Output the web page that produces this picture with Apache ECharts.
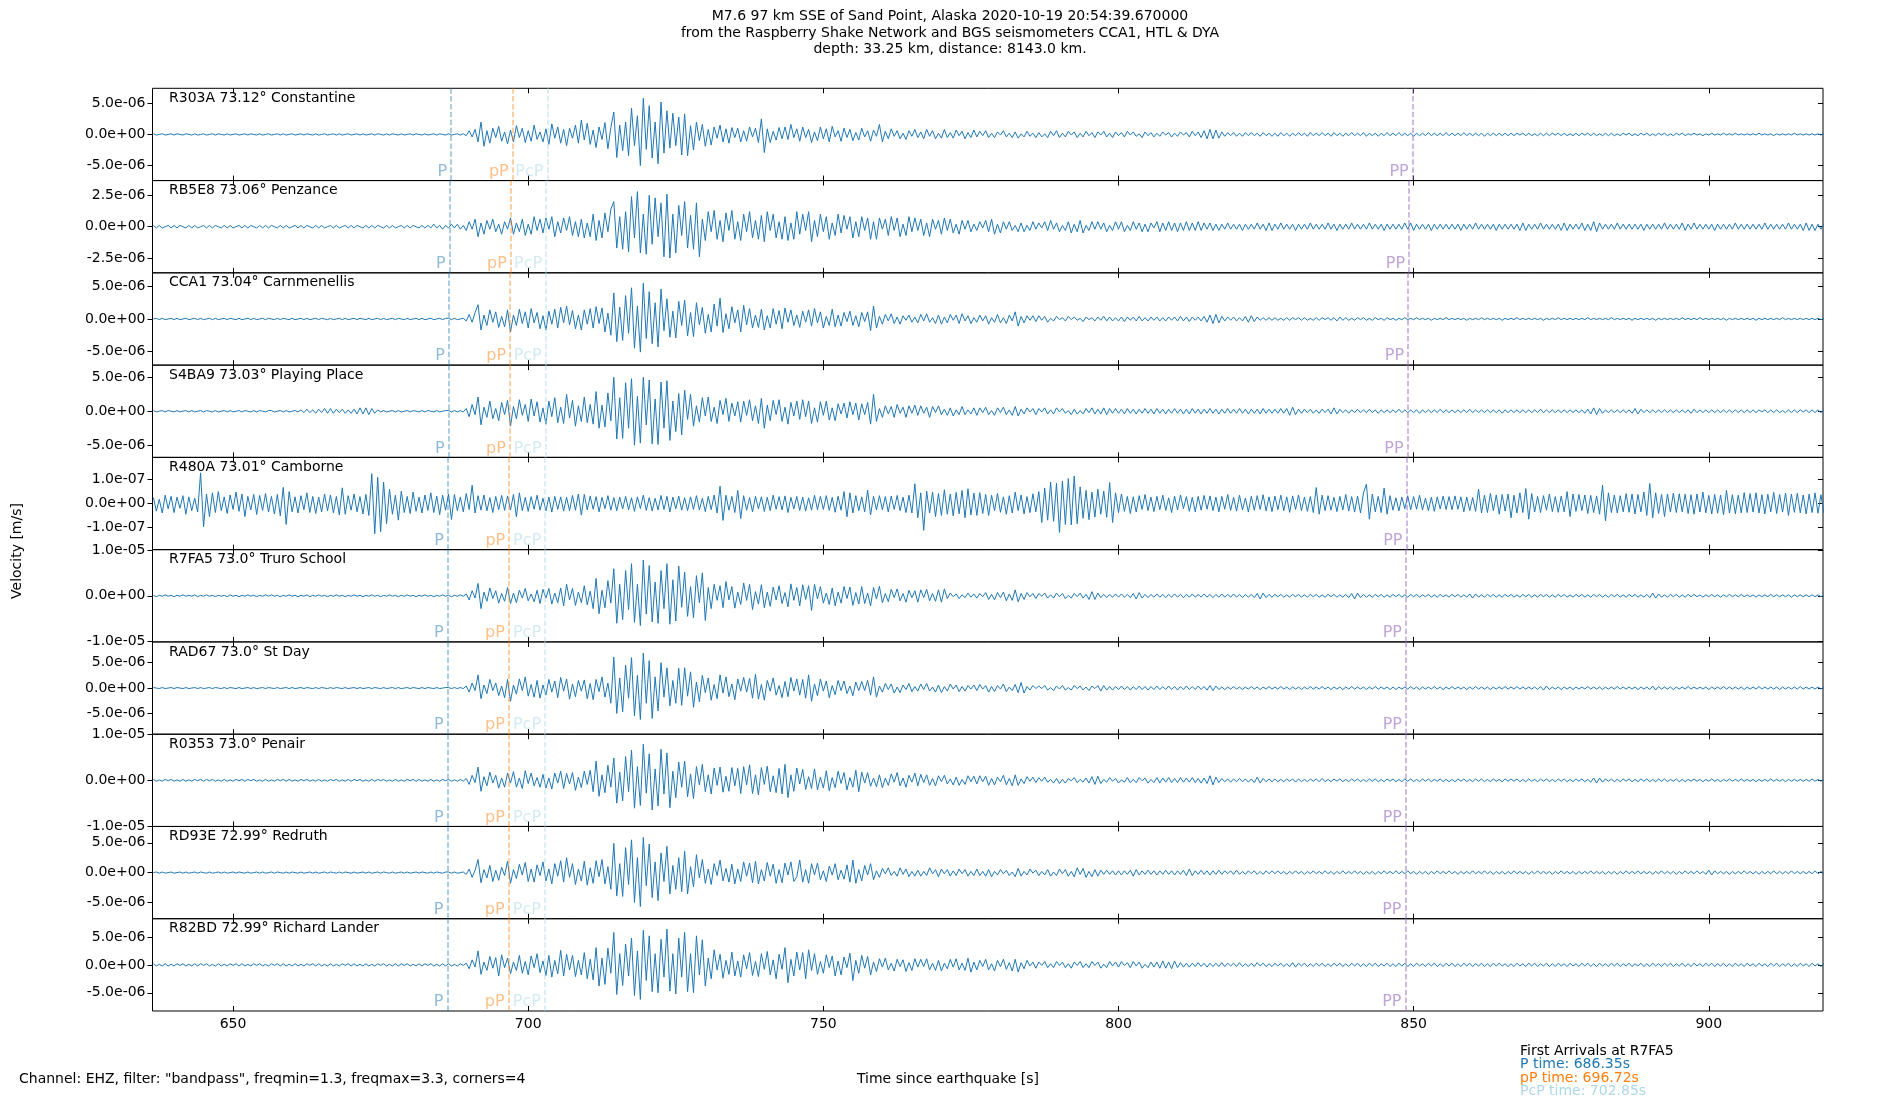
<!DOCTYPE html>
<html><head><meta charset="utf-8">
<script src="https://cdn.jsdelivr.net/npm/echarts@6/dist/echarts.min.js"></script>
<style>html,body{margin:0;padding:0;background:#fff}#c{width:1900px;height:1100px}</style>
</head><body><div id="c"></div>
<script>
const stationLabels = ['R303A 73.12° Constantine','RB5E8 73.06° Penzance','CCA1 73.04° Carnmenellis','S4BA9 73.03° Playing Place','R480A 73.01° Camborne','R7FA5 73.0° Truro School','RAD67 73.0° St Day','R0353 73.0° Penair','RD93E 72.99° Redruth','R82BD 72.99° Richard Lander'];
const phaseNames = ['P','pP','PcP','PP'];
const pTimes   = [686.95, 686.68, 686.57, 686.52, 686.41, 686.35, 686.35, 686.35, 686.30, 686.30];
const pPTimes  = [697.38, 697.05, 696.94, 696.89, 696.78, 696.72, 696.72, 696.72, 696.67, 696.67];
const pcpTimes = [703.25, 703.03, 702.97, 702.94, 702.88, 702.85, 702.85, 702.85, 702.82, 702.82];
const ppTimes  = [849.85, 849.24, 849.06, 848.97, 848.79, 848.70, 848.70, 848.70, 848.61, 848.61];
const yTickSteps = [5e-6, 2.5e-6, 5e-6, 5e-6, 1e-7, 1e-5, 5e-6, 1e-5, 5e-6, 5e-6];
const yLimits = [7.4e-6, 3.68e-6, 7.1e-6, 6.8e-6, 1.94e-7, 1.007e-5, 9.1e-6, 1.01e-5, 7.75e-6, 8.27e-6];
const valueUnits = [1e-7, 1e-7, 1e-7, 1e-7, 1e-9, 1e-7, 1e-7, 1e-7, 1e-7, 1e-7];
const xTicks = [650, 700, 750, 800, 850, 900];
const xMin = 636.35, xMax = 919.35;
const sampleStart = 636.5, sampleStep = 0.5;

const trace_R303A = [
1,-1,0,1,-1,0,1,-1,1,0,-1,1,0,-1,1,-1,0,1,-1,0,
1,-1,1,0,-1,1,-1,0,1,-1,0,1,-1,1,0,-1,1,-1,0,1,
-1,0,1,-1,1,-1,0,1,-1,0,1,-1,1,0,-1,1,-1,0,1,-1,
0,1,-1,1,-1,0,1,-1,0,1,-1,1,-1,0,1,-1,1,0,-1,1,
-1,1,0,-1,1,-1,0,1,-1,1,0,-1,1,-1,0,1,-1,1,0,-1,
1,-1,0,1,-1,1,-2,6,-4,8,-12,20,-19,6,-14,10,-5,13,-11,4,
-15,7,-12,14,-5,10,-13,6,-11,15,-8,4,-12,9,-16,17,-6,12,-14,8,
-18,10,-6,15,-14,23,-9,18,-16,7,-21,12,-8,19,-23,11,36,-37,15,-26,
20,-34,42,-18,30,-50,58,-24,46,-38,20,-47,52,-30,38,-22,34,-18,28,-33,
33,-34,14,-25,20,-10,16,-19,8,-17,12,-6,15,-12,9,-14,11,-5,10,-12,
6,-11,12,-4,10,-13,25,-29,9,-13,5,-9,11,-7,12,-8,16,-5,9,-11,
12,-5,8,-13,4,-10,12,-7,9,-12,13,-4,6,-11,10,-5,8,-10,3,-9,
10,-4,6,-11,7,-3,16,-12,5,-7,9,-3,6,-7,2,-8,6,-3,8,-5,
4,-7,8,-3,6,-7,2,-6,8,-5,3,-6,7,-2,5,-7,3,-5,7,-4,
5,-2,6,-5,2,-5,4,-1,6,-4,2,-5,4,-6,1,-4,5,-3,2,-5,
3,-4,1,-5,5,-2,6,-5,2,-4,5,-1,4,-5,2,-4,5,-2,3,-5,
4,-1,5,-4,2,-5,4,-2,3,-4,5,-1,4,-3,1,-5,4,-2,3,-4,
2,-3,4,-1,3,-4,2,-3,4,-1,3,-4,5,-2,4,-5,6,-7,8,-7,
7,-6,4,-3,3,-2,3,-3,2,-3,3,-2,3,-2,2,-3,3,-2,2,-3,
2,-3,3,-2,2,-3,2,-2,3,-2,2,-3,3,-2,2,-2,3,-2,2,-3,
3,-2,2,-3,2,-2,3,-2,2,-2,3,-3,2,-2,2,-3,2,-2,3,-2,
2,-2,3,-2,2,-2,2,-3,2,-2,2,-2,3,-2,2,-2,2,-2,3,-2,
2,-2,2,-2,3,-2,2,-2,2,-2,2,-3,2,-2,2,-2,2,-2,2,-2,
2,-2,2,-1,2,-2,2,-2,1,-2,2,-2,2,-2,2,-1,2,-2,2,-2,
1,-2,2,-2,2,-1,2,-2,2,-2,1,-2,2,-2,2,-2,1,-2,2,-1,
2,-2,1,-2,2,-1,2,-2,1,-2,2,-1,2,-2,1,-2,2,-1,2,-2,
1,-1,2,-1,1,-2,1,-1,2,-1,1,-1,2,-1,1,-1,2,-1,1,-1,
1,-1,1,-1,2,-1,1,-1,1,-2,1,-1,1,-1,1,-1,2,-1,1,-1,
1,-1,1,-1,1,-1,1];

const trace_RB5E8 = [
1,-1,1,-1,0,1,-1,1,-1,1,0,-1,1,-1,1,-1,0,1,-1,1,
-1,1,0,-1,1,-1,1,-1,0,1,-1,1,-1,1,0,-1,1,-1,1,-1,
1,0,-1,1,-1,1,-1,0,1,-1,1,-1,1,0,-1,1,-1,1,-1,0,
1,-1,1,-1,0,1,-1,1,-1,1,0,-1,1,-1,1,-1,1,0,-1,1,
-1,1,-1,0,1,-1,1,-1,1,0,-1,1,-1,1,-1,2,-1,1,-2,1,
-1,2,-1,2,-2,1,-3,4,-2,6,-8,3,-6,5,-2,6,-4,2,-6,4,
-2,7,-6,3,-4,6,-7,2,-6,8,-3,6,-5,7,-2,8,-8,4,-5,7,
-3,8,-7,4,-8,6,-9,3,-8,10,-11,5,-9,11,-4,14,20,-17,8,-18,
12,-20,24,-9,28,-21,10,-22,25,-14,23,-8,19,-24,26,-25,10,-21,17,-7,
20,-17,9,-18,19,-24,6,-11,12,-4,13,-10,5,-12,11,-3,13,-10,4,-11,
10,-4,12,-9,5,-10,9,-12,12,-3,10,-9,4,-10,8,-11,3,-10,12,-6,
10,-3,12,-12,5,-8,10,-4,8,-10,3,-7,10,-5,9,-2,8,-9,4,-8,
8,-3,7,-10,4,-10,7,-2,6,-7,8,-3,7,-8,2,-7,8,-4,7,-3,
6,-7,3,-8,6,-2,5,-6,7,-3,6,-5,2,-6,5,-2,5,-4,2,-3,
4,-1,5,-4,6,-6,2,-5,4,-2,4,-3,1,-4,3,-4,1,-3,4,-2,
3,-1,4,-3,5,-2,3,-4,1,-3,4,-5,2,-4,5,-5,1,-3,4,-2,
4,-2,3,-4,1,-3,4,-2,4,-4,1,-3,4,-2,3,-4,2,-4,3,-1,
4,-4,3,-3,4,-3,3,-4,3,-3,4,-3,3,-3,4,-3,3,-2,3,-3,
2,-3,2,-2,3,-2,2,-2,2,-3,2,-2,2,-2,3,-2,2,-3,3,-3,
2,-2,3,-2,2,-2,2,-3,2,-2,2,-2,3,-2,2,-2,2,-2,3,-2,
2,-3,2,-2,2,-2,3,-2,2,-2,2,-2,3,-2,2,-2,2,-3,2,-2,
2,-2,2,-2,3,-2,3,-3,2,-2,2,-2,2,-3,2,-2,2,-2,2,-2,
2,-2,2,-3,2,-2,2,-2,3,-2,2,-2,2,-2,2,-3,2,-2,2,-2,
2,-2,2,-3,3,-3,2,-2,2,-2,3,-2,2,-2,2,-2,2,-3,3,-3,
2,-2,2,-2,3,-3,2,-3,4,-4,3,-2,2,-2,2,-2,3,-2,2,-2,
2,-2,2,-2,2,-3,2,-2,2,-2,2,-2,3,-2,2,-2,2,-2,3,-3,
2,-2,3,-2,2,-2,2,-2,2,-3,2,-2,2,-2,2,-2,3,-2,2,-2,
2,-2,2,-2,2,-2,3,-2,2,-2,2,-2,2,-2,3,-2,2,-2,2,-3,
3,-3,2,-3,2,-2,2];

const trace_CCA1 = [
0,1,-1,1,-1,0,1,-1,1,-1,0,1,-1,0,1,-1,1,-1,0,1,
-1,1,-1,0,1,-1,1,0,-1,1,-1,0,1,-1,1,-1,0,1,-1,1,
0,-1,1,-1,1,0,-1,1,-1,0,1,-1,1,-1,0,1,-1,1,0,-1,
1,-1,0,1,-1,1,-1,0,1,-1,1,0,-1,1,-1,0,1,-1,1,-1,
0,1,-1,1,0,-1,1,-1,0,1,-1,1,-1,0,1,-1,0,1,-1,1,
1,-1,1,-1,0,1,-3,7,-5,10,22,-17,6,-10,14,-5,11,-13,4,-12,
14,-20,6,-10,15,-7,11,-14,16,-6,10,-15,5,-17,12,-8,15,-14,18,-6,
20,-9,13,-15,6,-17,14,-8,16,-14,19,-7,17,-20,9,-25,40,-35,18,-33,
36,-22,48,-45,20,-51,55,-30,42,-38,25,-43,46,-18,31,-28,12,-29,27,-10,
29,-26,10,-27,25,-9,18,-22,7,-20,23,-11,32,-21,8,-15,19,-6,14,-20,
21,-9,16,-14,6,-13,15,-17,5,-14,16,-8,13,-15,17,-5,14,-10,6,-13,
12,-5,14,-11,16,-6,11,-14,4,-10,15,-12,6,-11,10,-4,12,-10,5,-12,
10,-4,11,-18,20,-14,4,-8,7,-3,8,-7,3,-8,5,-2,6,-5,3,-6,
7,-3,8,-5,2,-7,6,-8,3,-6,7,-2,6,-7,8,-3,5,-7,2,-5,
6,-3,5,-8,2,-5,7,-6,2,-7,6,-3,11,-11,4,-6,5,-2,5,-4,
5,-2,4,-5,1,-3,4,-1,2,-3,4,-1,3,-2,1,-4,3,-1,2,-3,
3,-2,4,-3,3,-3,2,-3,3,-4,3,-2,3,-3,4,-3,2,-3,3,-2,
3,-3,2,-3,3,-2,3,-3,4,-3,3,-4,3,-2,3,-3,4,-5,6,-7,
7,-6,4,-3,3,-2,3,-3,2,-3,4,-5,5,-4,3,-2,2,-2,2,-2,
2,-2,1,-2,2,-2,2,-1,2,-2,2,-2,1,-2,2,-2,2,-1,2,-2,
2,-3,3,-2,2,-2,1,-2,2,-1,2,-2,1,-2,2,-1,1,-2,2,-1,
1,-2,1,-1,2,-1,1,-1,2,-1,1,-1,1,-2,1,-1,1,-1,2,-1,
1,-1,1,-1,1,-2,1,-1,1,-1,2,-1,1,-1,1,-1,1,-2,1,-1,
1,-1,2,-1,1,-1,1,-1,1,-1,1,-2,1,-1,1,-1,2,-1,1,-1,
1,-1,1,-1,1,-1,2,-1,1,-1,1,-1,1,-1,2,-1,1,-1,1,-1,
1,-2,1,-1,1,-1,1,-1,1,-2,1,-1,1,-1,1,-1,1,-1,2,-1,
1,-1,1,-1,2,-1,1,-1,1,-1,1,-1,1,-2,1,-1,1,-1,1,-1,
1,-1,1,-2,1,-1,1,-1,1,-1,1,-1,2,-1,1,-1,1,-1,1,-1,
1,-1,1,-1,1,-1,1];

const trace_S4BA9 = [
1,-1,0,1,-1,1,0,-1,1,-1,0,1,-1,1,-1,0,1,-1,1,0,
-1,1,-1,0,1,-1,1,-1,0,1,-1,1,0,-1,1,-1,1,0,-1,1,
1,-1,0,1,-1,1,-1,0,1,-1,2,-2,3,-2,2,-3,3,-2,4,-3,
4,-3,3,-2,3,-3,2,-3,3,-4,5,-4,5,-5,4,-3,2,-1,1,-1,
0,1,-1,1,-1,0,1,-1,1,0,-1,1,-1,1,0,-1,1,-1,0,1,
1,-1,1,-1,1,-1,4,-8,10,-5,21,-20,6,-9,15,-11,4,-14,13,-5,
16,-22,7,-11,17,-6,10,-15,18,-7,14,-16,5,-19,15,-8,20,-17,6,-18,
25,-10,16,-22,8,-15,21,-17,10,-19,29,-25,9,-23,27,-14,50,-41,20,-40,
42,-25,48,-50,22,-47,50,-20,46,-48,18,-49,43,-25,45,-43,15,-30,26,-35,
31,-12,25,-22,8,-16,20,-7,21,-15,6,-18,16,-5,19,-15,12,-7,14,-16,
15,-6,17,-14,8,-18,19,-25,9,-14,16,-5,17,-15,6,-19,13,-7,15,-12,
17,-8,15,-18,5,-16,14,-6,15,-13,5,-14,11,-4,12,-10,14,-5,12,-13,
11,-5,13,-19,25,-15,4,-9,8,-4,7,-9,10,-3,6,-9,8,-3,9,-6,
8,-3,6,-9,7,-2,8,-5,3,-6,5,-7,2,-5,7,-5,2,-4,5,-6,
5,-2,6,-5,1,-6,5,-2,6,-5,2,-6,7,-7,3,-4,5,-1,4,-5,
4,-1,5,-4,2,-4,5,-1,4,-3,1,-5,3,-4,1,-4,4,-2,5,-4,
3,-4,5,-5,4,-3,4,-3,3,-4,4,-3,3,-4,3,-3,4,-3,3,-4,
4,-3,3,-4,3,-3,4,-3,3,-4,3,-4,4,-3,3,-4,3,-3,4,-3,
3,-4,3,-3,4,-3,3,-3,4,-3,3,-4,3,-3,3,-4,4,-3,3,-3,
3,-3,4,-3,4,-6,6,-5,3,-3,3,-2,3,-3,2,-3,3,-2,3,-4,
5,-4,3,-2,2,-3,2,-2,3,-2,2,-2,3,-2,2,-3,2,-2,2,-2,
2,-2,3,-2,2,-2,2,-2,2,-3,2,-2,2,-2,2,-2,3,-2,2,-2,
2,-2,2,-2,2,-2,3,-2,2,-2,2,-2,2,-2,2,-2,2,-3,2,-2,
2,-2,2,-2,2,-2,2,-2,2,-2,3,-2,2,-2,2,-2,2,-2,2,-2,
2,-2,2,-2,2,-3,3,-4,5,-5,4,-3,2,-2,2,-2,2,-2,2,-2,
2,-3,4,-4,3,-2,2,-2,2,-2,2,-2,2,-2,2,-2,2,-2,2,-2,
2,-3,3,-2,2,-2,2,-2,2,-2,2,-2,2,-2,2,-2,2,-2,2,-2,
2,-2,2,-2,2,-1,2,-2,2,-2,2,-2,1,-2,2,-2,2,-2,2,-1,
2,-2,2,-2,2,-2,2];

const trace_R480A = [
25,-32,18,-40,35,-22,30,-38,27,-20,33,-45,28,-30,22,-36,129,-98,40,-55,
45,-38,50,-30,28,-42,36,-25,48,-33,40,-55,30,-27,38,-46,34,-29,42,-36,
30,-44,38,-52,68,-88,50,-35,28,-40,33,-26,45,-38,30,-42,27,-35,40,-31,
36,-40,30,-48,66,-45,33,-28,40,-35,29,-44,38,-50,125,-127,110,-118,90,-85,
60,-45,35,-70,52,-38,30,-42,48,-33,27,-40,36,-29,45,-38,31,-47,35,-28,
40,-67,38,-30,27,-35,42,-25,77,-40,33,-28,36,-31,25,-38,30,-26,34,-29,
32,-27,38,-56,45,-30,26,-33,29,-24,35,-28,22,-31,27,-36,30,-25,28,-32,
26,-30,34,-28,40,-49,38,-27,31,-24,29,-35,26,-22,33,-28,25,-30,27,-23,
30,-26,24,-33,28,-21,35,-29,25,-31,22,-27,34,-25,30,-36,27,-22,31,-28,
24,-30,28,-25,33,-27,22,-34,30,-26,36,-40,73,-71,35,-28,30,-38,55,-63,
33,-28,25,-35,30,-22,28,-33,26,-30,35,-24,29,-27,32,-38,26,-23,30,-29,
27,-32,24,-28,35,-26,30,-25,33,-29,26,-37,31,-28,50,-56,45,-40,33,-30,
28,-35,56,-48,30,-27,33,-26,29,-36,31,-25,34,-30,27,-38,35,-40,83,-60,
45,-113,52,-40,48,-55,42,-50,58,-45,40,-52,47,-43,55,-60,62,-48,44,-50,
46,-42,38,-50,35,-30,42,-37,28,-45,33,-40,48,-30,36,-44,29,-38,41,-35,
50,-80,65,-70,90,-75,85,-122,95,-88,105,-90,116,-85,70,-62,55,-68,48,-57,
60,-45,52,-58,88,-80,45,-38,40,-33,30,-42,28,-36,33,-25,38,-30,27,-34,
30,-26,35,-29,24,-38,31,-27,36,-22,29,-33,26,-35,30,-28,34,-24,32,-30,
27,-35,30,-24,38,-29,26,-32,35,-27,23,-36,30,-28,33,-25,37,-31,28,-34,
31,-26,35,-30,28,-37,32,-25,36,-30,27,-33,29,-38,67,-45,35,-30,33,-28,
26,-34,30,-27,38,-32,29,-36,31,-40,45,81,-66,40,-35,30,-38,65,-45,33,
-28,24,-31,27,-22,33,-26,29,-24,35,-27,22,-30,26,-33,28,-23,31,-25,29,
-26,32,-24,28,-35,27,-30,25,-33,60,-40,35,-38,42,-30,36,-45,38,-32,40,
-60,35,-40,45,-38,63,-66,42,-36,30,-38,33,-28,40,-34,29,-37,31,-35,50,
-55,40,-33,38,-30,36,-42,34,-38,32,-45,77,-73,45,-38,36,-40,33,-35,42,
-37,40,-44,38,-35,48,-50,84,-60,45,-42,38,-55,40,-36,44,-38,41,-35,39,
-42,37,-45,40,-36,48,-39,34,-44,38,-41,36,-47,55,-40,37,-43,35,-39,46,
-38,42,-36,45,-40,37,-44,39,-35,47,-42,38,-36,44,-50,40,-37,43,-39,36,
-44,40,-38,45,-41,37,-40];

const trace_R7FA5 = [
1,-2,1,-1,2,-1,1,-2,1,-1,2,-1,1,-1,2,-2,1,-1,2,-1,
1,-2,1,-1,1,-2,2,-1,1,-2,1,-1,2,-1,1,-2,1,-1,2,-1,
2,-1,1,-2,1,-1,2,-1,1,-2,1,-1,2,-2,1,-1,2,-1,1,-2,
1,-1,2,-1,1,-2,1,-1,2,-1,1,-2,1,-1,2,-1,1,-2,1,-1,
2,-1,1,-2,1,-1,2,-1,1,-2,1,-1,2,-1,1,-2,1,-1,2,-1,
1,-2,1,-1,2,-1,4,-9,11,-5,27,-28,8,-12,17,-6,11,-16,5,-12,
18,-17,6,-15,12,-5,16,-11,4,-13,12,-17,14,-5,16,-18,6,-15,17,-22,
25,-9,16,-21,8,-15,22,-20,10,-28,38,-39,12,-26,33,-16,59,-60,25,-52,
55,-30,70,-58,25,-65,78,-40,66,-57,30,-60,55,-28,70,-62,35,-55,65,-25,
52,-45,20,-48,44,-15,50,-54,18,-28,25,-10,22,-26,31,-9,20,-27,8,-19,
28,-10,25,-30,9,-18,24,-26,8,-23,19,-9,22,-17,7,-24,26,-10,18,-22,
24,-8,22,-32,25,-7,20,-16,6,-19,17,-22,8,-16,20,-6,19,-21,7,-18,
20,-17,6,-22,18,-7,21,-15,5,-13,14,-4,15,-11,5,-14,12,-4,11,-14,
13,-4,14,-11,5,-12,13,-14,15,-6,6,-2,4,-6,2,-4,6,-3,4,-5,
5,-2,7,-8,3,-9,7,-4,8,-11,4,-10,13,-13,5,-8,7,-2,5,-6,
5,-1,6,-5,2,-5,6,-2,5,-6,1,-5,5,-2,6,-5,3,-8,9,-8,
6,-4,3,-4,3,-3,4,-3,4,-3,3,-4,5,-7,7,-5,3,-4,3,-3,
4,-3,3,-4,3,-3,4,-3,3,-4,3,-3,4,-3,3,-3,4,-3,3,-4,
3,-3,4,-3,3,-3,4,-3,3,-4,3,-3,3,-4,5,-7,6,-4,3,-3,
3,-2,3,-3,2,-3,3,-2,3,-3,2,-3,3,-2,3,-3,2,-3,3,-2,
3,-3,2,-3,3,-4,5,-7,6,-4,3,-3,2,-3,3,-2,3,-3,2,-3,
3,-2,3,-3,2,-3,3,-2,3,-3,2,-2,3,-3,2,-3,3,-2,2,-3,
3,-2,3,-3,2,-3,4,-5,4,-3,2,-3,3,-2,3,-3,2,-3,3,-2,
3,-3,2,-3,3,-2,3,-3,2,-3,3,-2,3,-3,2,-3,3,-2,3,-3,
2,-3,3,-2,3,-3,2,-3,3,-2,3,-3,2,-3,3,-2,3,-3,2,-3,
3,-2,3,-3,2,-3,3,-4,6,-5,4,-3,2,-3,3,-2,3,-3,2,-3,
3,-2,3,-2,2,-3,2,-2,3,-2,2,-3,2,-2,3,-2,2,-2,3,-2,
2,-2,2,-3,2,-2,2,-2,3,-2,2,-2,2,-2,2,-3,2,-2,2,-2,
2,-2,2,-2,2,-2,2];

const trace_RAD67 = [
1,0,-1,1,-1,0,1,-1,1,0,-1,1,-1,0,1,-1,1,-1,0,1,
-1,1,0,-1,1,-1,1,0,-1,1,-1,0,1,-1,1,-1,0,1,-1,1,
0,-1,1,-1,0,1,-1,1,-1,0,1,-1,1,0,-1,1,-1,1,0,-1,
1,-1,1,0,-1,1,-1,0,1,-1,1,-1,0,1,-1,1,0,-1,1,-1,
0,1,-1,1,-1,0,1,-1,1,0,-1,1,-1,1,0,-1,1,-1,0,1,
1,-1,1,-1,1,-1,4,-8,10,-5,26,-21,6,-11,17,-5,10,-15,4,-19,
17,-26,6,-12,18,-5,22,-16,7,-18,15,-20,6,-14,17,-8,14,-19,21,-6,
18,-22,8,-17,15,-6,16,-21,9,-23,17,-7,22,-18,10,-30,61,-50,20,-47,
45,-20,60,-55,25,-62,69,-30,54,-60,22,-45,50,-18,40,-35,15,-30,39,-34,
40,-16,32,-38,12,-27,25,-9,20,-24,7,-21,26,-10,22,-17,8,-23,18,-6,
21,-8,19,-20,27,-22,7,-24,15,-6,20,-14,5,-19,13,-17,21,-6,18,-14,
17,-20,26,-26,8,-15,18,-6,14,-19,5,-13,15,-5,14,-11,4,-15,12,-5,
13,-5,15,-14,22,-18,4,-8,9,-3,8,-10,2,-9,6,-3,9,-7,3,-6,
8,-3,9,-6,2,-8,6,-9,3,-6,8,-2,6,-7,3,-6,5,-2,6,-5,
7,-2,5,-8,3,-7,5,-2,8,-7,2,-5,7,-9,11,-10,3,-4,5,-1,
4,-1,5,-4,1,-5,4,-2,5,-4,1,-4,5,-1,4,-4,2,-5,4,-1,
5,-6,5,-4,3,-4,3,-3,4,-3,3,-4,3,-3,4,-3,3,-4,3,-3,
4,-3,3,-3,4,-3,3,-4,3,-3,4,-3,3,-3,4,-3,3,-4,5,-5,
4,-3,2,-3,2,-2,3,-2,2,-3,2,-2,3,-2,2,-3,2,-2,3,-2,
2,-2,3,-2,2,-3,2,-2,2,-3,2,-2,3,-2,2,-2,3,-2,2,-3,
2,-2,2,-3,2,-2,3,-2,2,-2,2,-3,2,-2,3,-2,2,-2,2,-3,
2,-3,2,-2,2,-2,3,-2,2,-3,2,-2,2,-2,3,-2,2,-3,2,-2,
3,-2,2,-2,2,-3,2,-2,3,-2,2,-2,2,-3,2,-2,2,-2,3,-2,
2,-2,3,-2,2,-2,2,-2,2,-3,3,-4,4,-3,2,-2,2,-3,2,-2,
2,-3,2,-2,2,-2,3,-2,2,-2,2,-3,2,-2,2,-2,3,-2,2,-2,
2,-2,2,-3,2,-2,2,-3,4,-4,3,-2,2,-2,2,-3,2,-2,2,-2,
3,-2,2,-2,2,-2,2,-3,2,-2,2,-2,3,-2,2,-2,2,-2,2,-3,
2,-2,2,-2,3,-2,2,-2,2,-2,2,-3,2,-2,2,-2,2,-2,3,-2,
2,-2,2,-2,2,-2,2];

const trace_R0353 = [
2,-2,1,-2,2,-1,2,-2,1,-2,2,-2,1,-2,2,-1,2,-2,2,-1,
2,-2,1,-2,2,-2,1,-2,2,-1,2,-2,2,-1,2,-2,1,-2,2,-2,
1,-2,2,-1,2,-2,2,-2,1,-2,2,-1,2,-2,1,-2,2,-2,1,-2,
2,-1,2,-2,1,-2,2,-2,2,-1,2,-2,1,-2,2,-2,2,-1,2,-2,
1,-2,2,-2,1,-2,2,-1,2,-2,2,-2,1,-2,2,-2,1,-2,2,-1,
2,-2,1,-2,2,-2,4,-9,11,-5,29,-24,8,-12,18,-6,11,-17,5,-15,
16,-6,19,-15,5,-18,21,-7,16,-12,6,-15,13,-17,5,-19,16,-6,20,-18,
15,-8,17,-22,7,-16,20,-9,22,-25,42,-35,12,-27,33,-15,49,-50,18,-45,
52,-25,66,-61,30,-55,79,-28,58,-65,25,-56,68,-30,60,-60,20,-38,40,-15,
42,-36,14,-40,30,-10,35,-25,12,-30,27,-11,29,-26,9,-24,28,-12,26,-29,
30,-10,34,-29,12,-32,28,-9,31,-25,10,-27,26,-30,35,-38,12,-24,27,-8,
24,-20,8,-18,25,-21,7,-17,21,-23,6,-16,20,-7,17,-21,6,-15,22,-25,
18,-6,17,-13,5,-14,12,-16,5,-11,14,-4,17,-12,5,-15,11,-4,16,-12,
13,-5,12,-11,4,-12,10,-3,11,-8,3,-10,7,-11,2,-9,10,-3,9,-8,
10,-3,9,-11,4,-10,7,-3,11,-10,4,-12,12,-11,3,-7,8,-2,7,-5,
6,-2,7,-4,2,-6,4,-7,2,-6,4,-1,6,-5,2,-4,5,-6,8,-9,
9,-7,2,-4,6,-2,4,-6,1,-4,6,-5,2,-5,6,-1,5,-6,2,-5,
6,-6,5,-4,6,-5,4,-5,6,-4,5,-4,6,-5,4,-6,5,-7,10,-10,
7,-5,4,-3,3,-4,3,-3,4,-3,3,-4,3,-5,7,-6,4,-3,3,-3,
3,-3,2,-3,3,-2,3,-4,3,-3,2,-3,3,-2,3,-3,4,-3,2,-3,
3,-2,3,-3,2,-3,3,-2,3,-3,2,-3,3,-2,3,-3,2,-3,3,-2,
3,-3,2,-3,3,-2,3,-3,2,-3,3,-2,3,-3,2,-2,3,-3,2,-3,
2,-3,3,-2,3,-3,2,-3,3,-2,3,-3,2,-3,3,-2,2,-3,3,-2,
3,-2,3,-3,2,-3,3,-2,2,-3,3,-2,3,-3,2,-3,3,-2,3,-3,
2,-3,3,-2,3,-3,2,-4,5,-6,5,-4,3,-2,3,-3,2,-3,3,-2,
3,-3,2,-3,3,-2,3,-3,2,-3,3,-2,3,-3,2,-2,3,-3,2,-3,
2,-2,3,-2,2,-3,2,-2,3,-2,2,-3,2,-2,3,-2,2,-2,3,-2,
2,-2,2,-3,2,-2,2,-2,3,-2,2,-2,2,-3,2,-2,2,-2,2,-2,
2,-2,3,-2,2,-2,2];

const trace_RD93E = [
0,1,-1,1,-1,0,1,-1,0,1,-1,1,-1,0,1,-1,1,0,-1,1,
-1,0,1,-1,1,-1,0,1,-1,1,0,-1,1,-1,0,1,-1,1,-1,0,
1,-1,1,0,-1,1,-1,1,0,-1,1,-1,0,1,-1,1,-1,0,1,-1,
1,0,-1,1,-1,1,0,-1,1,-1,0,1,-1,1,-1,0,1,-1,1,0,
-1,1,-1,0,1,-1,1,-1,0,1,-1,1,0,-1,1,-1,1,0,-1,1,
1,-1,1,-1,0,1,-3,6,-8,4,22,-17,5,-9,12,-15,4,-13,9,-5,
19,-18,5,-10,14,-4,17,-15,6,-16,13,-5,18,-14,6,-19,15,-6,20,-16,
25,-8,15,-20,6,-14,19,-21,8,-18,20,-7,22,-19,10,-28,49,-39,15,-40,
42,-20,55,-50,25,-57,59,-22,48,-42,18,-47,33,-15,44,-36,12,-28,25,-32,
36,-36,10,-24,30,-9,22,-18,6,-20,15,-5,21,-14,7,-16,14,-19,6,-15,
18,-6,16,-17,19,-19,5,-14,17,-6,14,-18,5,-17,16,-4,18,-15,-7,21,
-16,5,-18,15,-4,16,-12,3,-15,11,-4,15,-12,4,-11,13,-16,21,-18,5,
-14,12,-4,15,-12,3,-8,7,-2,8,-5,2,-6,8,-3,6,-7,2,-6,4,
-6,2,-5,8,-2,5,-7,6,-2,5,-6,3,-5,6,-2,5,-6,2,-5,6,
-5,2,-6,5,-7,2,-4,5,-2,4,-5,1,-7,7,-6,2,-4,6,-1,4,
-5,2,-4,5,-6,1,-5,6,-2,5,-6,2,-7,8,-3,7,-8,2,-7,5,
-6,4,-3,4,-3,3,-4,3,-4,3,-3,4,-6,5,-4,3,-3,4,-3,3,
-4,3,-3,4,-3,3,-4,3,-3,4,-5,6,-5,3,-3,4,-3,3,-4,3,
-3,4,-3,3,-2,3,-3,4,-3,2,-3,3,-2,3,-3,2,-3,3,-2,3,
-2,3,-2,2,-3,2,-2,3,-2,2,-3,2,-2,3,-2,2,-2,3,-2,2,
-3,2,-2,3,-2,2,-2,3,-2,2,-3,2,-2,2,-3,2,-2,3,-2,2,
-2,3,-2,2,-2,3,-2,2,-3,2,-2,2,-3,2,-2,3,-2,2,-2,3,
-2,2,-3,2,-2,2,-2,3,-2,2,-2,3,-2,2,-3,2,-2,2,-3,2,
-2,3,-2,2,-2,2,-3,2,-2,3,-2,2,-2,2,-3,2,-2,3,-2,2,
-2,2,-3,2,-2,2,-2,3,-2,2,-2,2,-3,2,-2,2,-3,2,-2,3,
-2,2,-2,3,-2,2,-2,2,-3,2,-2,3,-2,2,-2,2,-3,2,-2,3,
-2,2,-2,3,-2,2,-3,4,-4,3,-2,2,-2,2,-3,2,-2,2,-2,3,
-2,2,-2,2,-3,2,-2,2,-2,3,-2,2,-2,2,-2,3,-2,2,-2,2,
-2,2,-2,3,-2,2,-2];

const trace_R82BD = [
2,-2,1,-2,2,-2,1,-2,2,-1,2,-2,1,-2,2,-2,2,-1,2,-2,
1,-2,2,-2,1,-2,2,-1,2,-2,2,-2,1,-2,2,-1,2,-2,1,-2,
2,-1,2,-2,2,-2,1,-2,2,-2,1,-2,2,-1,2,-2,2,-2,1,-2,
2,-2,1,-2,2,-1,2,-2,2,-2,1,-2,2,-2,1,-2,2,-1,2,-2,
1,-2,2,-2,2,-1,2,-2,1,-2,2,-2,2,-1,2,-2,1,-2,2,-2,
2,-2,1,-2,2,-1,3,-7,9,-4,25,-17,5,-10,15,-6,13,-20,18,-5,
12,-16,5,-10,17,-15,6,-18,16,-5,20,-14,7,-19,17,-22,8,-16,26,-20,
19,-9,17,-21,8,-18,22,-25,10,-27,31,-38,12,-35,30,-15,58,-53,20,-37,
37,-20,48,-55,25,-62,62,-28,52,-48,20,-50,46,-22,64,-47,20,-52,48,-22,
58,-48,20,-50,52,-18,45,-38,12,-25,27,-9,19,-24,8,-17,23,-20,7,-22,
18,-7,22,-19,6,-21,20,-8,24,-18,9,-25,19,-8,31,-32,10,-20,23,-9,
22,-25,27,-10,20,-17,6,-15,18,-5,16,-20,7,-18,14,-5,21,-28,8,-15,
17,-6,15,-18,5,-12,11,-4,12,-9,3,-11,10,-3,9,-12,4,-10,11,-4,
10,-3,11,-9,3,-10,8,-11,3,-7,10,-4,11,-9,3,-10,12,-13,5,-9,
8,-3,10,-9,2,-11,8,-3,10,-8,4,-11,10,-13,4,-7,8,-2,5,-6,
5,-1,6,-5,2,-5,6,-1,5,-5,2,-6,5,-1,6,-5,2,-5,6,-1,
5,-6,1,-5,6,-2,5,-4,6,-1,4,-5,6,-2,5,-6,1,-5,5,-4,
5,-6,7,-6,5,-7,7,-5,4,-4,3,-4,3,-3,4,-3,3,-4,3,-3,
3,-3,4,-3,3,-2,3,-3,4,-3,2,-3,3,-3,4,-2,3,-3,2,-3,
3,-2,3,-3,2,-3,4,-4,3,-2,3,-3,2,-3,3,-2,3,-3,2,-3,
3,-2,3,-3,2,-3,3,-2,3,-3,2,-3,3,-2,3,-3,2,-2,3,-3,
2,-3,3,-2,3,-3,2,-3,3,-2,2,-3,3,-2,3,-3,2,-3,3,-2,
3,-3,2,-3,3,-2,3,-3,2,-2,3,-3,2,-3,3,-2,3,-2,2,-3,
2,-3,3,-2,2,-3,3,-2,3,-3,2,-2,3,-3,2,-3,3,-2,2,-3,
3,-2,2,-3,3,-2,3,-3,2,-3,3,-2,2,-3,3,-2,3,-3,2,-2,
3,-3,2,-2,3,-3,2,-3,3,-2,2,-3,3,-2,3,-3,2,-2,3,-3,
2,-3,3,-2,2,-3,3,-2,3,-3,2,-2,3,-3,2,-3,3,-2,2,-3,
3,-2,2,-3,3,-2,2,-3,3,-2,3,-3,2,-2,3,-3,2,-3,3,-2,
2,-3,3,-2,2,-3,2];

const traces = [trace_R303A, trace_RB5E8, trace_CCA1, trace_S4BA9, trace_R480A, trace_R7FA5, trace_RAD67, trace_R0353, trace_RD93E, trace_R82BD];
const phaseTimes = [pTimes, pPTimes, pcpTimes, ppTimes];
const phaseColors = ['rgba(31,119,180,0.5)', 'rgba(255,127,14,0.5)', 'rgba(173,216,230,0.55)', 'rgba(148,103,189,0.6)'];
const FONT = '"DejaVu Sans", "Liberation Sans", sans-serif';

function sci(v) {
  if (Math.abs(v) < 1e-20) return '0.0e+00';
  const s = v.toExponential(1);
  const parts = s.split('e');
  const n = parseInt(parts[1], 10);
  return parts[0] + 'e' + (n < 0 ? '-' : '+') + String(Math.abs(n)).padStart(2, '0');
}

const L = 152.5, R = 1823, T = 88.3, H = 92.27;
const option = { animation: false, backgroundColor: '#fff', grid: [], xAxis: [], yAxis: [], series: [], graphic: [] };
const tickLine = { color: '#000', width: 1 };

for (let i = 0; i < 10; i++) {
  const lim = yLimits[i], st = yTickSteps[i];
  const yt = [-st, 0, st];
  option.grid.push({ left: L, top: T + i * H, width: R - L, height: H, show: true, borderColor: '#000', borderWidth: 1, backgroundColor: 'transparent', containLabel: false });
  const xBase = { gridIndex: i, type: 'value', min: xMin, max: xMax, axisLine: { show: false, onZero: false }, splitLine: { show: false } };
  option.xAxis.push(Object.assign({}, xBase, { position: 'bottom',
    axisTick: { show: true, inside: true, length: 5, lineStyle: tickLine, customValues: xTicks },
    axisLabel: { show: i === 9, customValues: xTicks, color: '#000', fontSize: 14, fontFamily: FONT, margin: 6 } }));
  option.xAxis.push(Object.assign({}, xBase, { position: 'top',
    axisTick: { show: true, inside: true, length: 5, lineStyle: tickLine, customValues: xTicks },
    axisLabel: { show: false } }));
  const yBase = { gridIndex: i, type: 'value', min: -lim, max: lim, axisLine: { show: false, onZero: false }, splitLine: { show: false } };
  option.yAxis.push(Object.assign({}, yBase, { position: 'left',
    axisTick: { show: true, inside: false, length: 5, lineStyle: tickLine, customValues: yt },
    axisLabel: { show: true, customValues: yt, formatter: sci, color: '#000', fontSize: 14, fontFamily: FONT, margin: 7 } }));
  option.yAxis.push(Object.assign({}, yBase, { position: 'right',
    axisTick: { show: true, inside: true, length: 5, lineStyle: tickLine, customValues: yt },
    axisLabel: { show: false } }));

  const unit = valueUnits[i];
  const data = traces[i].map((v, k) => [sampleStart + k * sampleStep, v * unit]);
  option.series.push({
    type: 'line', xAxisIndex: 2 * i, yAxisIndex: 2 * i, data: data, showSymbol: false, symbol: 'none',
    lineStyle: { width: 1, color: '#1f77b4' }, itemStyle: { color: '#1f77b4' }, silent: true, clip: true, z: 2,
    markLine: { symbol: ['none', 'none'], silent: true, animation: false, label: { show: false }, z: 3,
      data: phaseTimes.map((arr, p) => ({ xAxis: arr[i], lineStyle: { color: phaseColors[p], type: [5.5, 2.4], width: 1.5 } })) }
  });
  option.series.push({
    type: 'custom', xAxisIndex: 2 * i, yAxisIndex: 2 * i, silent: true, clip: false, z: 4,
    data: phaseTimes.map((arr) => [arr[i], -lim]),
    renderItem: function (params, api) {
      const pt = api.coord([api.value(0), api.value(1)]);
      const p = params.dataIndex;
      return { type: 'text', x: pt[0] - 4, y: pt[1] - 1,
        style: { text: phaseNames[p], fill: phaseColors[p], fontSize: 16, fontFamily: FONT, align: 'right', verticalAlign: 'bottom' } };
    }
  });
  option.graphic.push({ type: 'text', x: 169, y: T + i * H + 10, silent: true,
    style: { text: stationLabels[i], fill: '#000', fontSize: 14, fontFamily: FONT, align: 'left', verticalAlign: 'middle' } });
}

const titleLines = ['M7.6 97 km SSE of Sand Point, Alaska 2020-10-19 20:54:39.670000', 'from the Raspberry Shake Network and BGS seismometers CCA1, HTL & DYA', 'depth: 33.25 km, distance: 8143.0 km.'];
titleLines.forEach((t, k) => option.graphic.push({ type: 'text', x: 950, y: 16.5 + k * 16.5, silent: true,
  style: { text: t, fill: '#000', fontSize: 14, fontFamily: FONT, align: 'center', verticalAlign: 'middle' } }));
option.graphic.push({ type: 'text', x: 17.5, y: 551, rotation: Math.PI / 2, silent: true,
  style: { text: 'Velocity [m/s]', fill: '#000', fontSize: 14, fontFamily: FONT, align: 'center', verticalAlign: 'middle' } });
option.graphic.push({ type: 'text', x: 19, y: 1079, silent: true,
  style: { text: 'Channel: EHZ, filter: "bandpass", freqmin=1.3, freqmax=3.3, corners=4', fill: '#000', fontSize: 14, fontFamily: FONT, align: 'left', verticalAlign: 'middle' } });
option.graphic.push({ type: 'text', x: 948, y: 1079, silent: true,
  style: { text: 'Time since earthquake [s]', fill: '#000', fontSize: 14, fontFamily: FONT, align: 'center', verticalAlign: 'middle' } });
const arrivalLines = [['First Arrivals at R7FA5', '#000'], ['P time: 686.35s', '#1f77b4'], ['pP time: 696.72s', '#ff7f0e'], ['PcP time: 702.85s', '#add8e6']];
arrivalLines.forEach((a, k) => option.graphic.push({ type: 'text', x: 1520, y: 1051 + k * 13.6, silent: true,
  style: { text: a[0], fill: a[1], fontSize: 14, fontFamily: FONT, align: 'left', verticalAlign: 'middle' } }));

const chart = echarts.init(document.getElementById('c'), null, { renderer: 'canvas', width: 1900, height: 1100 });
chart.setOption(option);
</script>
</body></html>
